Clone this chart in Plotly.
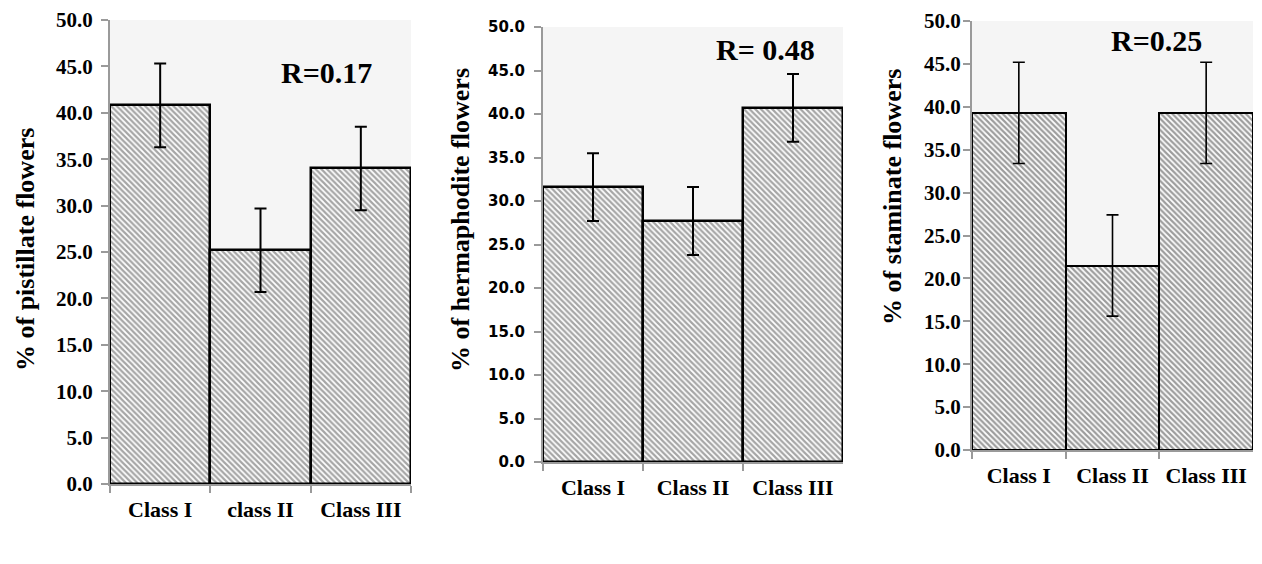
import plotly.graph_objects as go

# browser body margin of 8px: figure is drawn offset by 8px
OFF = 8
W, H = 1262 - 2 * OFF, 564 - 2 * OFF

# ---- data ----
cats_p = ["Class I", "class II", "Class III"]
cats = ["Class I", "Class II", "Class III"]
pistillate = [40.8, 25.2, 34.0]
pistillate_err = [4.5, 4.5, 4.5]
hermaphrodite = [31.6, 27.7, 40.7]
hermaphrodite_err = [3.9, 3.9, 3.9]
staminate = [39.3, 21.5, 39.3]
staminate_err = [5.9, 5.9, 5.9]
r_labels = ["R=0.17", "R= 0.48", "R=0.25"]
y_titles = ["% of pistillate flowers", "% of hermaphodite flowers", "% of staminate flowers"]
tick_vals = [0, 5, 10, 15, 20, 25, 30, 35, 40, 45, 50]

SERIF = "Liberation Serif, Times New Roman, serif"
SANS = "DejaVu Sans, Verdana, sans-serif"

# panel pixel boxes in screen coords (left, right, top, bottom)
boxes = [(110, 411, 20, 484), (543, 843, 27, 462), (972, 1253, 21, 450)]

def px_x(x):
    return min(max((x - OFF) / W, 0), 1)

def px_y(y):
    return min(max(1 - (y - OFF) / H, 0), 1)

fig = go.Figure()

panels = [
    (cats_p, pistillate, pistillate_err, "#4c4c4c", 2.5, 2),
    (cats, hermaphrodite, hermaphrodite_err, "#4c4c4c", 2.5, 2),
    (cats, staminate, staminate_err, "#3a3a3a", 2, 1.6),
]
for i, (c, v, e, fg, lw, ew) in enumerate(panels):
    xa = "x" if i == 0 else f"x{i+1}"
    ya = "y" if i == 0 else f"y{i+1}"
    fig.add_trace(go.Bar(
        x=c, y=v, xaxis=xa, yaxis=ya,
        marker=dict(color="white", line=dict(color="black", width=lw),
                    pattern=dict(shape="\\", fgcolor=fg, bgcolor="white", size=4, solidity=0.55)),
        error_y=dict(type="data", array=e, visible=True, color="black", thickness=ew, width=6),
        showlegend=False,
    ))

layout = dict(width=W, height=H, margin=dict(l=0, r=0, t=0, b=0, autoexpand=False),
              paper_bgcolor="white", plot_bgcolor="#f5f5f5", bargap=0)

tick_fonts = [dict(family=SERIF, size=21, color="black", weight="bold"),
              dict(family=SANS, size=15, color="black", weight="bold"),
              dict(family=SERIF, size=21, color="black", weight="bold")]
y_standoff = [4, 6, -2]

for i, (l, r, t, b) in enumerate(boxes):
    xk = "xaxis" if i == 0 else f"xaxis{i+1}"
    yk = "yaxis" if i == 0 else f"yaxis{i+1}"
    ya = "y" if i == 0 else f"y{i+1}"
    xa = "x" if i == 0 else f"x{i+1}"
    layout[xk] = dict(domain=[px_x(l), px_x(r)], anchor=ya, range=[-0.5, 2.5], automargin=False,
                      showline=True, linecolor="#9a9a9a", linewidth=2,
                      ticks="outside", tickson="boundaries", ticklen=7, tickcolor="#9a9a9a", tickwidth=2,
                      tickfont=dict(family=SERIF, size=22, color="black", weight="bold"),
                      ticklabeloverflow="allow",
                      ticklabelstandoff=5, showgrid=False, zeroline=False, fixedrange=True)
    layout[yk] = dict(domain=[px_y(b), px_y(t)], anchor=xa, range=[0, 50], automargin=False,
                      tickvals=tick_vals, tickformat=".1f",
                      showline=True, linecolor="#9a9a9a", linewidth=2,
                      ticks="outside", ticklen=7, tickcolor="#9a9a9a", tickwidth=2,
                      ticklabelstandoff=y_standoff[i], ticklabeloverflow="allow",
                      tickfont=tick_fonts[i], showgrid=False, zeroline=False, fixedrange=True)

fig.update_layout(**layout)

# y titles
title_pos = [(25, 250), (460, 220), (892, 197)]
for (x, y), txt in zip(title_pos, y_titles):
    fig.add_annotation(x=px_x(x), y=px_y(y), xref="paper", yref="paper", text=txt,
                       textangle=-90, showarrow=False, xanchor="center", yanchor="middle",
                       font=dict(family=SERIF, size=26, color="black", weight="bold"))

# R annotations
r_pos = [(326, 73), (765, 50), (1156, 40)]
for (x, y), txt in zip(r_pos, r_labels):
    fig.add_annotation(x=px_x(x), y=px_y(y), xref="paper", yref="paper", text=txt,
                       showarrow=False, xanchor="center", yanchor="middle",
                       font=dict(family=SERIF, size=30, color="black", weight="bold"))

fig.write_html("out.html")
